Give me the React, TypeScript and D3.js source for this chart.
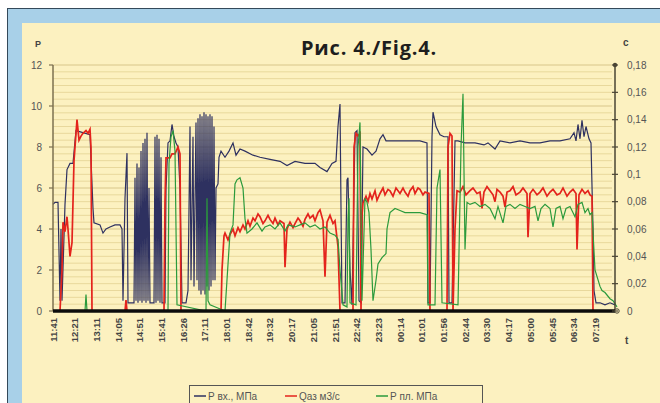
import * as d3 from "d3";

// подписи оси времени (категории)
const timeLabels = [
  "11:41", "12:21", "13:11", "14:05", "14:51", "15:41", "16:26", "17:11", "18:01",
  "18:42", "19:32", "20:17", "21:05", "21:51", "22:42", "23:23", "00:14", "01:01",
  "01:56", "02:44", "03:30", "04:17", "05:00", "05:45", "06:34", "07:19",
];

// номер отсчёта, P вх., МПа
const pInlet: [number, number][] = [
  [0, 5.2], [2, 5.3], [5, 5.3], [7, 0.5], [8, 4.0], [9, 0.5], [12, 5.2], [14, 6.9], [17, 7.2], [20, 7.2],
  [23, 8.8], [37, 8.6], [40, 5.0], [41, 4.3], [47, 4.2], [50, 3.8], [53, 4.0], [57, 4.1], [62, 4.2], [67, 4.2],
  [69, 4.0], [70, 0.5], [72, 5.5], [74, 7.7], [75, 0.4], [81, 0.4],
  [82, 6.5], [83, 0.5], [84, 7.2], [85, 0.4], [86, 7.0], [87, 0.5], [88, 7.8], [89, 0.4], [90, 8.2], [91, 0.5],
  [92, 8.4], [93, 0.4], [94, 8.7], [95, 0.5], [96, 6.0], [97, 0.4], [101, 0.4],
  [102, 8.5], [103, 0.4], [104, 8.6], [105, 0.5], [106, 8.4], [107, 0.4], [108, 7.5], [109, 0.4], [112, 0.4],
  [113, 6.0], [115, 8.2], [117, 8.3], [119, 9.1], [121, 8.5], [123, 8.2], [125, 8.0], [127, 6.0], [129, 0.4],
  [133, 0.4], [135, 1.0],
  [137, 9.0], [138, 1.5], [140, 8.5], [141, 1.2], [143, 9.2], [144, 1.5], [145, 9.4], [146, 1.0], [147, 9.6],
  [148, 0.8], [149, 9.5], [150, 1.0], [151, 9.7], [152, 0.8], [153, 9.6], [154, 1.2], [155, 9.5], [156, 1.0],
  [157, 9.6], [158, 1.2], [159, 9.5], [160, 1.5], [161, 9.0], [162, 1.5], [163, 6.0], [165, 6.2], [166, 7.5],
  [168, 7.8], [172, 7.5], [176, 7.8], [180, 8.2], [183, 7.6], [187, 7.9], [192, 7.8], [200, 7.6], [207, 7.5],
  [217, 7.4], [227, 7.3], [234, 7.1], [242, 7.3], [252, 7.2], [262, 7.2], [267, 7.0], [274, 6.8], [279, 7.2],
  [283, 7.3], [285, 9.0], [287, 10.1], [288, 5.0], [289, 0.4], [292, 0.4], [294, 6.4], [295, 6.5], [297, 2.0],
  [299, 0.3], [302, 8.7], [304, 8.8], [306, 0.5], [308, 0.4], [310, 8.0], [314, 7.9], [319, 7.6], [323, 7.8],
  [327, 8.4], [330, 8.6], [333, 8.3], [337, 8.3], [347, 8.3], [357, 8.3], [367, 8.3], [374, 8.2], [375, 0.4],
  [377, 0.4], [379, 8.5], [380, 9.7], [383, 9.0], [387, 8.6], [391, 8.5], [395, 8.5], [396, 0.4], [399, 0.4],
  [402, 8.3], [405, 8.3], [412, 8.2], [422, 8.2], [431, 8.1], [435, 8.2], [442, 7.9], [447, 8.3], [457, 8.2],
  [467, 8.3], [477, 8.2], [487, 8.2], [497, 8.3], [507, 8.3], [517, 8.4], [521, 8.7], [523, 8.3], [525, 9.1],
  [527, 8.4], [529, 9.3], [531, 8.5], [533, 9.0], [536, 8.4], [538, 8.2], [540, 4.0], [541, 1.0], [543, 0.4],
  [547, 0.4], [552, 0.3], [557, 0.4], [562, 0.3],
];

// номер отсчёта, Q аз, м3/с
const qGas: [number, number][] = [
  [0, 0], [7, 0], [9, 0.03], [10, 0.065], [12, 0.058], [14, 0.069], [15, 0.06], [17, 0.04], [19, 0.05],
  [21, 0.11], [24, 0.14], [26, 0.125], [28, 0.128], [30, 0.13], [33, 0.132], [35, 0.13], [37, 0.133],
  [38, 0.12], [39, 0], [72, 0], [73, 0.008], [74, 0], [111, 0], [112, 0.08], [113, 0.112], [117, 0.112],
  [119, 0.115], [122, 0.115], [125, 0.12], [127, 0.115], [128, 0], [168, 0], [169, 0.03], [171, 0.055],
  [172, 0.057], [175, 0.052], [177, 0.056], [180, 0.06], [182, 0.055], [185, 0.061], [187, 0.058],
  [190, 0.063], [192, 0.06], [195, 0.066], [197, 0.062], [200, 0.068], [202, 0.066], [205, 0.071],
  [207, 0.069], [210, 0.064], [212, 0.066], [215, 0.07], [217, 0.067], [220, 0.064], [222, 0.068],
  [225, 0.063], [227, 0.066], [231, 0.064], [232, 0.032], [234, 0.06], [237, 0.065], [240, 0.061],
  [242, 0.064], [245, 0.068], [247, 0.066], [250, 0.062], [252, 0.067], [255, 0.071], [257, 0.068],
  [260, 0.07], [262, 0.066], [265, 0.072], [267, 0.074], [270, 0.066], [272, 0.025], [274, 0.065],
  [277, 0.07], [280, 0.064], [282, 0.066], [285, 0.047], [287, 0], [300, 0], [301, 0.12], [303, 0.13],
  [305, 0.128], [307, 0.13], [308, 0], [309, 0.07], [310, 0.079], [313, 0.084], [315, 0.08], [317, 0.086],
  [319, 0.082], [322, 0.088], [324, 0.081], [327, 0.086], [330, 0.09], [332, 0.085], [335, 0.089],
  [337, 0.088], [340, 0.084], [343, 0.09], [347, 0.086], [350, 0.09], [352, 0.087], [355, 0.084],
  [357, 0.088], [360, 0.091], [362, 0.086], [365, 0.09], [367, 0.089], [370, 0.085], [372, 0.087],
  [376, 0.086], [377, 0], [394, 0], [395, 0.12], [397, 0.13], [399, 0.128], [400, 0], [402, 0.06],
  [404, 0.088], [407, 0.087], [410, 0.091], [413, 0.085], [417, 0.088], [420, 0.09], [424, 0.086],
  [427, 0.087], [429, 0.075], [431, 0.087], [434, 0.091], [437, 0.088], [440, 0.085], [442, 0.08],
  [444, 0.089], [447, 0.087], [450, 0.084], [452, 0.076], [454, 0.087], [457, 0.088], [460, 0.091],
  [463, 0.085], [467, 0.087], [470, 0.09], [474, 0.086], [475, 0.054], [477, 0.086], [480, 0.089],
  [484, 0.085], [487, 0.087], [490, 0.09], [494, 0.084], [497, 0.087], [500, 0.089], [504, 0.085],
  [507, 0.086], [510, 0.09], [514, 0.084], [517, 0.087], [520, 0.089], [523, 0.086], [524, 0.045],
  [526, 0.085], [529, 0.089], [532, 0.086], [535, 0.088], [537, 0.085], [539, 0.084], [540, 0], [562, 0],
];

// номер отсчёта, P пл., МПа
const pRes: [number, number][] = [
  [0, 0], [32, 0], [33, 0.8], [34, 0], [115, 0], [116, 7.2], [118, 8.5], [120, 8.8], [122, 7.8], [124, 0.3],
  [153, 0], [154, 5.5], [155, 0.5], [157, 0.3], [172, 0], [177, 3.8], [180, 4.2], [182, 6.2], [184, 6.4],
  [187, 6.5], [190, 6.0], [192, 4.5], [194, 3.8], [199, 4.0], [204, 4.3], [209, 3.9], [212, 4.1], [217, 4.2],
  [222, 4.0], [227, 4.3], [232, 3.9], [235, 4.2], [242, 4.1], [247, 4.2], [252, 4.3], [257, 4.1], [262, 4.2],
  [267, 4.0], [272, 4.1], [277, 3.8], [282, 3.7], [285, 3.5], [287, 2.0], [290, 0.3], [294, 0.2], [295, 4.5],
  [296, 5.5], [297, 0.4], [303, 0.3], [305, 8.0], [307, 9.2], [309, 0.5], [312, 5.5], [314, 5.3], [316, 4.8],
  [318, 3.0], [320, 0.5], [323, 1.5], [325, 2.3], [329, 2.6], [333, 2.8], [334, 4.0], [337, 4.8], [342, 5.0],
  [347, 4.9], [352, 4.8], [357, 4.8], [362, 4.8], [367, 4.8], [374, 4.7], [375, 0.3], [382, 0.3], [384, 6.0],
  [387, 6.9], [389, 0.4], [405, 0.3], [408, 8.0], [410, 10.6], [412, 3.0], [414, 5.3], [417, 5.2], [422, 5.3],
  [427, 5.1], [432, 5.2], [437, 5.0], [442, 4.5], [445, 5.1], [450, 4.3], [453, 5.1], [457, 5.2], [462, 5.0],
  [467, 5.2], [472, 5.1], [477, 5.0], [482, 5.1], [485, 4.4], [488, 5.0], [492, 5.2], [497, 5.0], [500, 4.1],
  [503, 5.0], [507, 5.1], [510, 4.5], [513, 5.0], [517, 5.1], [522, 4.6], [525, 5.2], [529, 5.3], [532, 4.8],
  [535, 5.0], [537, 4.7], [539, 4.8], [542, 2.0], [547, 1.2], [549, 1.0], [552, 0.9], [557, 0.6], [560, 0.5],
  [564, 0.2],
];

const leftTicks = [0, 2, 4, 6, 8, 10, 12];
const rightTicks = [0, 0.02, 0.04, 0.06, 0.08, 0.1, 0.12, 0.14, 0.16, 0.18];
const legendNames = ["Р вх., МПа", "Qаз  м3/с", "Р пл. МПа"];
const colors = ["#2e3160", "#e4231c", "#2b9a3c"];

const W = 660;
const H = 403;
const plot = { left: 53, right: 615, top: 65, bottom: 311 };
const samples = 562;
const labelStep = samples / 25.9;

export default function App() {
  const x = d3.scaleLinear().domain([0, samples]).range([plot.left, plot.right]);
  const yL = d3.scaleLinear().domain([0, 12]).range([plot.bottom, plot.top]);
  const yR = d3.scaleLinear().domain([0, 0.18]).range([plot.bottom, plot.top]);

  const lineL = d3.line<[number, number]>().x((d) => x(d[0])).y((d) => yL(d[1]));
  const lineR = d3.line<[number, number]>().x((d) => x(d[0])).y((d) => yR(d[1]));

  const grid = d3.range(0, 12.01, 1 / 3);
  const font = "Arial, 'Liberation Sans', sans-serif";

  return (
    <svg width={W} height={H} style={{ position: "absolute", left: 0, top: 0 }} fontFamily={font}>
      <rect x={0} y={0} width={W} height={H} fill="#ffffff" />
      <rect x={7.5} y={8.5} width={W} height={H} fill="#a8d0e8" stroke="#34495a" strokeWidth={1} />
      <rect x={22} y={23} width={W} height={H} fill="#fcf1c0" />

      {/* сетка */}
      {grid.map((g, i) => (
        <line key={i} x1={plot.left} x2={plot.right - 3} y1={yL(g)} y2={yL(g)}
          stroke={i % 6 === 0 ? "#d8c68a" : "#e8d89c"} strokeWidth={1} />
      ))}

      <text x={369} y={55} textAnchor="middle" fontSize={20} fontWeight="bold" letterSpacing={0.8}
        fill="#1e1e1e" fontFamily="'Open Sans', sans-serif">Рис. 4./Fig.4.</text>

      {/* ряды */}
      <path d={lineL(pInlet) ?? ""} fill="none" stroke={colors[0]} strokeWidth={1.2} />
      <path d={lineR(qGas) ?? ""} fill="none" stroke={colors[1]} strokeWidth={1.7} />
      <path d={lineL(pRes) ?? ""} fill="none" stroke={colors[2]} strokeWidth={1.2} />

      {/* оси */}
      <line x1={plot.left} x2={plot.left} y1={plot.top} y2={plot.bottom} stroke="#7c7150" strokeWidth={1.5} />
      <line x1={plot.right} x2={plot.right} y1={plot.top} y2={plot.bottom} stroke="#4a4535" strokeWidth={1.5} />
      <line x1={plot.left} x2={plot.right} y1={plot.bottom} y2={plot.bottom} stroke="#0c0c0c" strokeWidth={3.5} />
      <circle cx={plot.right} cy={plot.top} r={2.2} fill="#4a4535" />
      <circle cx={plot.right + 2} cy={plot.bottom} r={2.2} fill="#fcf1c0" stroke="#4a4535" strokeWidth={1} />

      {leftTicks.map((t) => (
        <g key={t}>
          <line x1={plot.left - 4} x2={plot.left} y1={yL(t)} y2={yL(t)} stroke="#7c7150" strokeWidth={1.2} />
          <text x={plot.left - 11} y={yL(t) + 3.5} textAnchor="end" fontSize={10} fill="#555">{t}</text>
        </g>
      ))}
      {rightTicks.map((t, i) => (
        <g key={t}>
          <line x1={plot.right - 3} x2={plot.right + 3} y1={yR(t)} y2={yR(t)} stroke="#4a4535" strokeWidth={1.2} />
          <text x={plot.right + 12} y={yR(t) + 3.5} fontSize={10} fill="#555">
            {i === 0 ? "0" : String(+t.toFixed(2)).replace(".", ",")}
          </text>
        </g>
      ))}

      {timeLabels.map((lb, i) => (
        <text key={lb} transform={`translate(${x(i * labelStep) + 3.5},${plot.bottom + 7}) rotate(-90)`}
          textAnchor="end" fontSize={9.5} fill="#444" fontWeight="bold">{lb}</text>
      ))}

      <text x={35} y={47} fontSize={9} fontWeight="bold" fill="#444">P</text>
      <text x={623} y={46} fontSize={10} fontWeight="bold" fill="#444">c</text>
      <text x={625} y={344} fontSize={10} fontWeight="bold" fill="#444">t</text>

      {/* легенда */}
      <rect x={189.5} y={385.5} width={293} height={24} fill="#fcf1c0" stroke="#555" strokeWidth={1} />
      {legendNames.map((n, i) => {
        const lx = 194 + i * 91;
        return (
          <g key={n}>
            <line x1={lx} x2={lx + 12} y1={396} y2={396} stroke={colors[i]} strokeWidth={1.5} />
            <text x={lx + 14} y={399.5} fontSize={10} fill="#555">{n}</text>
          </g>
        );
      })}
    </svg>
  );
}
